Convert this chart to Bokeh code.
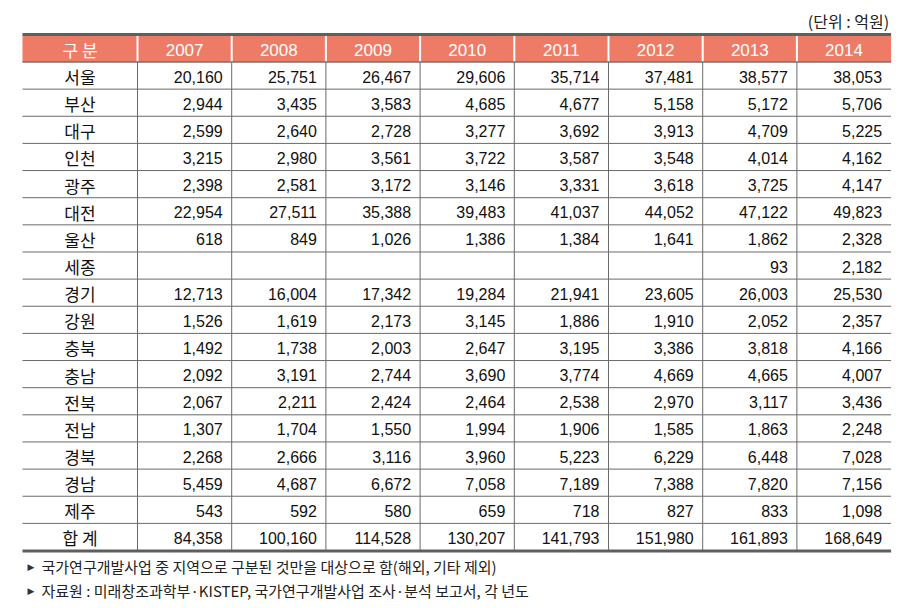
from bokeh.plotting import figure
from bokeh.models import Range1d, ColumnDataSource
from bokeh.embed import file_html
from bokeh.resources import INLINE
from bokeh.core.properties import value

# ---------------- data ----------------
header_label = "구 분"
years = ["2007", "2008", "2009", "2010", "2011", "2012", "2013", "2014"]
regions = ["서울", "부산", "대구", "인천", "광주", "대전", "울산", "세종", "경기",
           "강원", "충북", "충남", "전북", "전남", "경북", "경남", "제주", "합 계"]

v2007 = [20160, 2944, 2599, 3215, 2398, 22954, 618, None, 12713,
         1526, 1492, 2092, 2067, 1307, 2268, 5459, 543, 84358]
v2008 = [25751, 3435, 2640, 2980, 2581, 27511, 849, None, 16004,
         1619, 1738, 3191, 2211, 1704, 2666, 4687, 592, 100160]
v2009 = [26467, 3583, 2728, 3561, 3172, 35388, 1026, None, 17342,
         2173, 2003, 2744, 2424, 1550, 3116, 6672, 580, 114528]
v2010 = [29606, 4685, 3277, 3722, 3146, 39483, 1386, None, 19284,
         3145, 2647, 3690, 2464, 1994, 3960, 7058, 659, 130207]
v2011 = [35714, 4677, 3692, 3587, 3331, 41037, 1384, None, 21941,
         1886, 3195, 3774, 2538, 1906, 5223, 7189, 718, 141793]
v2012 = [37481, 5158, 3913, 3548, 3618, 44052, 1641, None, 23605,
         1910, 3386, 4669, 2970, 1585, 6229, 7388, 827, 151980]
v2013 = [38577, 5172, 4709, 4014, 3725, 47122, 1862, 93, 26003,
         2052, 3818, 4665, 3117, 1863, 6448, 7820, 833, 161893]
v2014 = [38053, 5706, 5225, 4162, 4147, 49823, 2328, 2182, 25530,
         2357, 4166, 4007, 3436, 2248, 7028, 7156, 1098, 168649]
columns = [v2007, v2008, v2009, v2010, v2011, v2012, v2013, v2014]

unit_label = "(단위 : 억원)"
notes = ["국가연구개발사업 중 지역으로 구분된 것만을 대상으로 함(해외, 기타 제외)",
         "자료원 : 미래창조과학부·KISTEP, 국가연구개발사업 조사·분석 보고서, 각 년도"]

# ---------------- layout ----------------
W, H = 906, 604
LEFT = 22.0
FIRST_W = 115.0
COL_W = 94.2
TOP = 34.5
HEAD_BOT = 61.5
ROW_H = 27.14
RIGHT = LEFT + FIRST_W + COL_W * len(years)
BOTTOM = HEAD_BOT + ROW_H * len(regions)
PAD = 9.0

KR = value("Noto Sans CJK KR")
NUM = value("Liberation Sans")

p = figure(width=W, height=H, x_range=Range1d(0, W), y_range=Range1d(H, 0),
           output_backend="svg", toolbar_location=None, min_border=0,
           x_axis_location=None, y_axis_location=None)
p.grid.visible = False
p.outline_line_color = None
p.background_fill_color = "white"
p.border_fill_color = "white"

# header background
p.quad(left=[LEFT], right=[RIGHT], top=[TOP], bottom=[HEAD_BOT],
       fill_color="#EE7B66", line_color=None)

edges = [LEFT + FIRST_W + i * COL_W for i in range(len(years))]

# white separators in header
p.segment(x0=edges, y0=[TOP] * len(edges), x1=edges, y1=[HEAD_BOT] * len(edges),
          line_color="white", line_width=2)
# vertical body lines
p.segment(x0=edges, y0=[HEAD_BOT] * len(edges), x1=edges, y1=[BOTTOM] * len(edges),
          line_color="#6a6a6a", line_width=1)
# horizontal row lines
row_lines = [HEAD_BOT + ROW_H * (i + 1) for i in range(len(regions) - 1)]
p.segment(x0=[LEFT] * len(row_lines), y0=row_lines, x1=[RIGHT] * len(row_lines), y1=row_lines,
          line_color="#6a6a6a", line_width=1)
# header bottom line
p.segment(x0=[LEFT], y0=[HEAD_BOT], x1=[RIGHT], y1=[HEAD_BOT], line_color="#707070", line_width=1.5)
# top and bottom borders
p.segment(x0=[LEFT, LEFT], y0=[TOP - 0.5, BOTTOM + 0.5], x1=[RIGHT, RIGHT], y1=[TOP - 0.5, BOTTOM + 0.5],
          line_color="#5f5f5f", line_width=3)

# header texts
p.text(x=[LEFT + FIRST_W / 2], y=[(TOP + HEAD_BOT) / 2 + 1], text=[header_label],
       text_font=KR, text_font_size="17px", text_color="white",
       text_align="center", text_baseline="middle")
p.text(x=[e + COL_W / 2 for e in edges], y=[(TOP + HEAD_BOT) / 2 + 1] * len(years), text=years,
       text_font=NUM, text_font_size="17px", text_color="white",
       text_align="center", text_baseline="middle")

# region labels
ys = [HEAD_BOT + ROW_H * (i + 0.5) + 1 for i in range(len(regions))]
p.text(x=[LEFT + FIRST_W / 2] * len(regions), y=ys, text=regions,
       text_font=KR, text_font_size="17px", text_color="#111111",
       text_align="center", text_baseline="middle")

# numbers
xs, yy, tt = [], [], []
for j, col in enumerate(columns):
    for i, v in enumerate(col):
        if v is None:
            continue
        xs.append(edges[j] + COL_W - PAD)
        yy.append(ys[i])
        tt.append(f"{v:,}")
src = ColumnDataSource(dict(x=xs, y=yy, t=tt))
p.text(x="x", y="y", text="t", source=src,
       text_font=NUM, text_font_size="16px", text_color="#111111",
       text_align="right", text_baseline="middle")

# unit label
p.text(x=[RIGHT - 2], y=[20], text=[unit_label], text_font=KR, text_font_size="16px",
       text_color="#222222", text_align="right", text_baseline="middle")

# notes
note_y = [566, 590]
p.text(x=[27] * 2, y=note_y, text=["▶"] * 2, text_font=value("DejaVu Sans"), text_font_size="9px",
       text_color="#333333", text_align="left", text_baseline="middle")
p.text(x=[41] * 2, y=note_y, text=notes, text_font=KR, text_font_size="15px",
       text_color="#222222", text_align="left", text_baseline="middle")

open("out.html", "w").write(file_html(p, INLINE))
